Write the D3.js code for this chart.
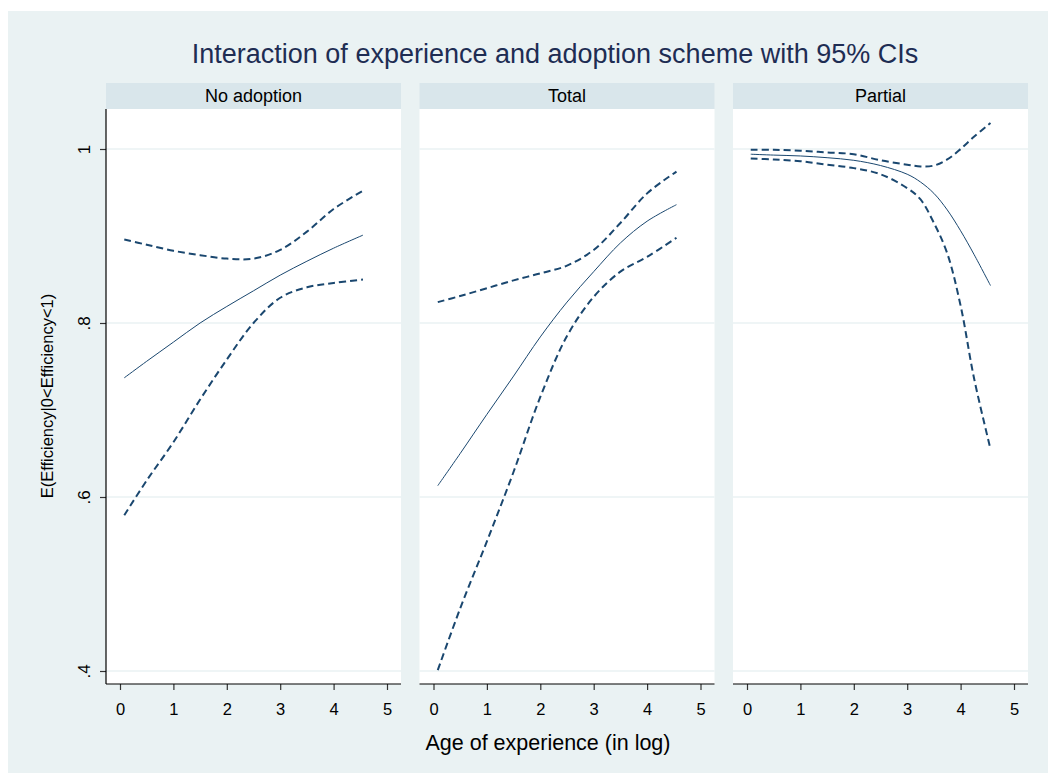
<!DOCTYPE html>
<html>
<head>
<meta charset="utf-8">
<script src="https://cdn.jsdelivr.net/npm/d3@7/dist/d3.min.js"></script>
<style>
  html, body { margin: 0; padding: 0; background: #ffffff; }
  svg { display: block; font-family: "Liberation Sans", Arial, sans-serif; }
</style>
</head>
<body>
<svg id="chart" width="1048" height="773"></svg>
<script>
// Panels (adoption scheme) and axis ticks
const panels = ["No adoption", "Total", "Partial"];
const xTicks = [0, 1, 2, 3, 4, 5];
const yTicks = [0.4, 0.6, 0.8, 1];
const yTickLabels = [".4", ".6", ".8", "1"];

// Predicted E(Efficiency|0<Efficiency<1) with 95% CI, by log age of experience
const xNo = [0.08, 0.5, 1, 1.5, 2, 2.5, 3, 3.5, 4, 4.55];
const fitNo = [0.737, 0.756, 0.778, 0.800, 0.819, 0.837, 0.855, 0.871, 0.886, 0.901];
const upNo = [0.896, 0.890, 0.883, 0.878, 0.874, 0.874, 0.884, 0.905, 0.931, 0.952];
const loNo = [0.579, 0.619, 0.663, 0.712, 0.758, 0.800, 0.829, 0.841, 0.846, 0.850];

const xTot = [0.08, 0.5, 1, 1.5, 2, 2.5, 3, 3.5, 4, 4.55];
const fitTot = [0.613, 0.650, 0.695, 0.739, 0.784, 0.824, 0.859, 0.892, 0.917, 0.936];
const upTot = [0.824, 0.831, 0.840, 0.849, 0.857, 0.866, 0.884, 0.915, 0.949, 0.974];
const loTot = [0.401, 0.472, 0.549, 0.629, 0.715, 0.785, 0.830, 0.859, 0.876, 0.898];

const xPar = [0.07, 0.5, 1, 1.5, 2, 2.5, 3, 3.25, 3.5, 3.75, 4, 4.25, 4.56];
const fitPar = [0.994, 0.993, 0.992, 0.990, 0.987, 0.981, 0.971, 0.962, 0.949, 0.930, 0.906, 0.879, 0.843];
const upPar = [0.999, 0.999, 0.998, 0.996, 0.994, 0.987, 0.982, 0.980, 0.981, 0.988, 1.000, 1.014, 1.030];
const loPar = [0.989, 0.988, 0.986, 0.982, 0.978, 0.971, 0.955, 0.942, 0.915, 0.880, 0.820, 0.737, 0.655];

const panelData = [
  { x: xNo, fit: fitNo, up: upNo, lo: loNo },
  { x: xTot, fit: fitTot, up: upTot, lo: loTot },
  { x: xPar, fit: fitPar, up: upPar, lo: loPar }
];

const bg = "#eaf2f3", strip = "#d9e6eb", lineCol = "#1a476f", titleCol = "#1e2d53";
const fontFam = "Liberation Sans, Arial, sans-serif";

const svg = d3.select("#chart");
svg.append("rect").attr("x", 8).attr("y", 11).attr("width", 1040).attr("height", 762).attr("fill", bg);

// panel geometry
const panelLeft = [106, 419.5, 733];
const panelW = 295;
const plotTop = 109, plotBottom = 684, stripTop = 83;

const x = d3.scaleLinear().domain([0, 5]).range([14, 281]);
const y = d3.scaleLinear().domain([0.4, 1]).range([671, 149]);

svg.append("text")
  .attr("x", 555).attr("y", 63)
  .attr("text-anchor", "middle")
  .attr("font-size", 27)
  .attr("fill", titleCol)
  .text("Interaction of experience and adoption scheme with 95% CIs");

panels.forEach((name, i) => {
  const g = svg.append("g").attr("transform", `translate(${panelLeft[i]},0)`);
  // strip
  g.append("rect").attr("x", 0).attr("y", stripTop).attr("width", panelW).attr("height", plotTop - stripTop).attr("fill", strip);
  g.append("text").attr("x", panelW / 2).attr("y", 102).attr("text-anchor", "middle")
    .attr("font-size", 18).attr("fill", "#000").text(name);
  // plot region
  g.append("rect").attr("x", 0).attr("y", plotTop).attr("width", panelW).attr("height", plotBottom - plotTop).attr("fill", "#fff");
  // gridlines
  g.selectAll("line.grid").data(yTicks).enter().append("line")
    .attr("x1", 0).attr("x2", panelW)
    .attr("y1", d => y(d)).attr("y2", d => y(d))
    .attr("stroke", bg).attr("stroke-width", 1.5);

  const d = panelData[i];
  const pts = k => d.x.map((xv, j) => [xv, d[k][j]]);
  const line = d3.line().x(p => x(p[0])).y(p => y(p[1])).curve(d3.curveCatmullRom.alpha(0.5));

  g.append("path").attr("d", line(pts("up"))).attr("fill", "none")
    .attr("stroke", lineCol).attr("stroke-width", 2).attr("stroke-dasharray", "7,4");
  g.append("path").attr("d", line(pts("lo"))).attr("fill", "none")
    .attr("stroke", lineCol).attr("stroke-width", 2).attr("stroke-dasharray", "7,4");
  g.append("path").attr("d", line(pts("fit"))).attr("fill", "none")
    .attr("stroke", lineCol).attr("stroke-width", 1);

  // x axis
  const ax = g.append("g").attr("transform", `translate(0,${plotBottom})`)
    .call(d3.axisBottom(x).tickValues(xTicks).tickSize(6).tickPadding(13).tickFormat(d3.format("d")));
  ax.select(".domain").remove();
  ax.selectAll(".tick line").attr("stroke", "#333").attr("stroke-width", 1.2);
  ax.selectAll(".tick text").attr("font-size", 16.5).attr("fill", "#000").attr("font-family", fontFam);
  g.append("line").attr("x1", 0).attr("x2", panelW).attr("y1", plotBottom).attr("y2", plotBottom)
    .attr("stroke", "#000").attr("stroke-width", 1.2);

  if (i === 0) {
    const ay = g.append("g")
      .call(d3.axisLeft(y).tickValues(yTicks).tickSize(6).tickFormat((v, j) => yTickLabels[j]));
    ay.select(".domain").remove();
    ay.selectAll(".tick line").attr("stroke", "#333").attr("stroke-width", 1.2);
    ay.selectAll(".tick text")
      .attr("font-size", 17).attr("fill", "#000").attr("font-family", fontFam)
      .attr("x", null).attr("dy", null)
      .attr("text-anchor", "middle")
      .attr("transform", "translate(-16.5,0) rotate(-90)");
    g.append("line").attr("x1", 0).attr("x2", 0).attr("y1", plotTop).attr("y2", plotBottom)
      .attr("stroke", "#000").attr("stroke-width", 1.2);
  }
});

svg.append("text")
  .attr("transform", "translate(53,396) rotate(-90)")
  .attr("text-anchor", "middle")
  .attr("font-size", 16.5).attr("fill", "#000")
  .text("E(Efficiency|0<Efficiency<1)");

svg.append("text")
  .attr("x", 548).attr("y", 750)
  .attr("text-anchor", "middle")
  .attr("font-size", 21.5).attr("fill", "#000")
  .text("Age of experience (in log)");
</script>
</body>
</html>
